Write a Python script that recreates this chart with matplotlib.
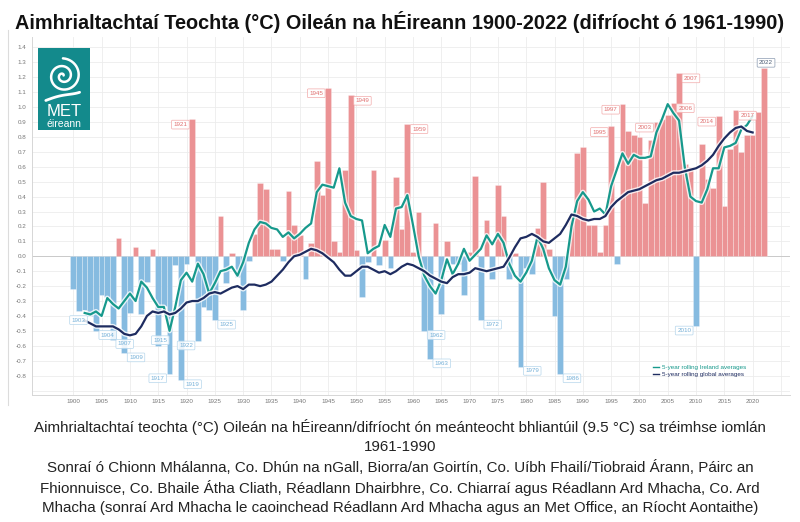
import numpy as np
import matplotlib
matplotlib.use("Agg")
import matplotlib.pyplot as plt
import matplotlib.patheffects as pe
from matplotlib.lines import Line2D
from matplotlib.patches import Rectangle
from matplotlib.ticker import FuncFormatter

plt.rcParams['font.family'] = ['Liberation Sans', 'DejaVu Sans']

# annual anomaly (°C) vs 1961-1990, Ireland, 1900-2022
years = np.arange(1900, 2023)
anomaly = [
    -0.22, -0.37, -0.36, -0.40, -0.50, -0.26, -0.27, -0.56, 0.12, -0.65,   # 1900s
    -0.38, 0.06, -0.39, -0.17, 0.05, -0.60, -0.33, -0.79, -0.06, -0.83,    # 1910s
    -0.05, 0.92, -0.57, -0.34, -0.36, -0.43, 0.27, -0.18, 0.02, -0.14,     # 1920s
    -0.36, -0.03, 0.15, 0.49, 0.45, 0.05, 0.05, -0.03, 0.44, 0.21,         # 1930s
    0.14, -0.15, 0.09, 0.64, 0.41, 1.13, 0.10, 0.03, 0.58, 1.08,           # 1940s
    0.04, -0.27, -0.04, 0.58, -0.06, 0.11, -0.08, 0.53, 0.18, 0.89,        # 1950s
    0.03, 0.30, -0.50, -0.69, 0.22, -0.39, 0.10, -0.05, -0.05, -0.26,      # 1960s
    0.03, 0.54, -0.43, 0.24, -0.15, 0.48, 0.27, -0.15, 0.02, -0.74,        # 1970s
    -0.08, -0.12, 0.19, 0.50, 0.05, -0.40, -0.79, -0.15, 0.27, 0.69,       # 1980s
    0.73, 0.21, 0.21, 0.03, 0.21, 0.87, -0.05, 1.02, 0.84, 0.81,           # 1990s
    0.80, 0.36, 0.78, 0.90, 0.92, 0.95, 1.03, 1.23, 0.62, 0.60,            # 2000s
    -0.47, 0.75, 0.52, 0.46, 0.94, 0.34, 0.72, 0.98, 0.70, 0.81,           # 2010s
    0.81, 0.97, 1.26,                                                      # 2020s
]

# 5-year rolling averages, centred, 1902-2020
roll_years = np.arange(1902, 2021)
ireland_roll = [
    -0.38, -0.39, -0.37, -0.40, -0.28, -0.32, -0.35, -0.30,
    -0.25, -0.30, -0.17, -0.21, -0.28, -0.34, -0.34, -0.50, -0.34, -0.16,
    -0.11, -0.17, -0.05, -0.12, -0.25, -0.18, -0.10, -0.09, -0.07, -0.13,
    -0.04, 0.09, 0.18, 0.23, 0.22, 0.19, 0.18, 0.13, 0.16, 0.12,
    0.15, 0.19, 0.22, 0.43, 0.48, 0.47, 0.46, 0.59, 0.36, 0.27,
    0.25, 0.24, 0.02, 0.05, 0.07, 0.21, 0.13, 0.32, 0.33, 0.41,
    0.21, 0.00, -0.13, -0.20, -0.25, -0.16, -0.02, -0.12, -0.05, 0.05,
    -0.03, 0.01, 0.05, 0.14, 0.08, 0.15, 0.09, -0.05, -0.13, -0.17,
    -0.11, -0.03, 0.13, 0.05, -0.08, -0.16, -0.19, -0.07, 0.20, 0.37,
    0.43, 0.38, 0.30, 0.32, 0.28, 0.47, 0.58, 0.69, 0.62, 0.68,
    0.66, 0.66, 0.67, 0.83, 0.92, 1.02, 0.96, 0.91, 0.60, 0.40,
    0.37, 0.36, 0.45, 0.59, 0.59, 0.73, 0.74, 0.76, 0.85, 0.88,
    0.94,
]
global_roll = [
    -0.43, -0.45, -0.47, -0.47, -0.47, -0.47, -0.49, -0.52,
    -0.53, -0.52, -0.47, -0.40, -0.37, -0.38, -0.37, -0.39, -0.38, -0.35,
    -0.31, -0.30, -0.30, -0.28, -0.25, -0.24, -0.25, -0.23, -0.21, -0.20,
    -0.22, -0.19, -0.19, -0.20, -0.19, -0.17, -0.13, -0.09, -0.04, 0.00,
    0.01, 0.03, 0.05, 0.04, 0.02, -0.01, -0.04, -0.09, -0.13, -0.13,
    -0.10, -0.07, -0.07, -0.09, -0.11, -0.10, -0.12, -0.10, -0.07, -0.05,
    -0.06, -0.08, -0.10, -0.13, -0.15, -0.17, -0.18, -0.14, -0.12, -0.12,
    -0.11, -0.08, -0.09, -0.10, -0.09, -0.08, -0.07, -0.01, 0.06, 0.12,
    0.13, 0.15, 0.13, 0.10, 0.09, 0.12, 0.15, 0.21, 0.28, 0.27,
    0.25, 0.24, 0.25, 0.25, 0.27, 0.33, 0.37, 0.40, 0.43, 0.44,
    0.45, 0.47, 0.49, 0.51, 0.52, 0.54, 0.56, 0.56, 0.57, 0.58,
    0.59, 0.61, 0.64, 0.68, 0.74, 0.79, 0.83, 0.86, 0.87, 0.84,
    0.83,
]

# highlighted years and which side of the bar the tag sits
label_years = [1903, 1904, 1907, 1909, 1915, 1917, 1919, 1921, 1922, 1925,
               1945, 1949, 1959, 1962, 1963, 1972, 1979, 1986,
               1995, 1997, 2003, 2006, 2007, 2010, 2014, 2017, 2022]
label_sides = ['l', 'r', 'r', 'r', 'c', 'l', 'r', 'l', 'l', 'r',
               'l', 'r', 'r', 'r', 'r', 'r', 'r', 'r',
               'l', 'l', 'l', 'r', 'r', 'l', 'l', 'r', 'c']

RED = '#eb9294'
BLUE = '#86bbe0'
GREEN = '#17998c'
NAVY = '#1e2c60'

fig = plt.figure(figsize=(8, 5.22), dpi=100)
W, H = 800, 522
ax = fig.add_axes([32 / W, 1 - 395 / H, (790 - 32) / W, (395 - 37) / H])

colors = [RED if v >= 0 else BLUE for v in anomaly]
ax.bar(years, anomaly, width=1.0, color=colors, edgecolor=(1, 1, 1, 0.45),
       linewidth=0.4, zorder=2)

halo = [pe.Stroke(linewidth=3.6, foreground='white', alpha=0.8), pe.Normal()]
ax.plot(roll_years, ireland_roll, color=GREEN, lw=1.6, zorder=4,
        path_effects=halo, label='5-year rolling Ireland averages')
ax.plot(roll_years, global_roll, color=NAVY, lw=1.6, zorder=4,
        path_effects=halo, label='5-year rolling global averages')

# year tags
val = dict(zip(years, anomaly))
for yr, side in zip(label_years, label_sides):
    v = val[yr]
    if yr == 2022:
        tc, ec = '#4d5d75', '#8a9ab0'
    elif v >= 0:
        tc, ec = '#e07070', '#f2aaaa'
    else:
        tc, ec = '#74b0d8', '#b5d6ec'
    if side == 'l':
        dx, ha = -3.5, 'right'
    elif side == 'r':
        dx, ha = 3.5, 'left'
    else:
        dx, ha = 1.5, 'center'
    dy = -4 if v >= 0 else -3
    if side == 'c':
        dy = 4
    ax.annotate(str(yr), (yr, v), xytext=(dx, dy), textcoords='offset points',
                ha=ha, va='center', fontsize=4.5, color=tc, zorder=5,
                bbox=dict(boxstyle='round,pad=0.3,rounding_size=0.15',
                          fc=(1, 1, 1, 0.85), ec=ec, lw=0.5))

ax.set_xlim(1892.7, 2026.6)
ax.set_ylim(-0.93, 1.47)
ax.set_xticks(np.arange(1900, 2021, 5))
ax.set_xticks(np.arange(1900, 2026, 5), minor=True)
ax.set_yticks(np.round(np.arange(-0.8, 1.41, 0.1), 1))
ax.set_yticks([-0.9], minor=True)
ax.yaxis.set_major_formatter(FuncFormatter(lambda v, p: f'{round(v, 1) + 0.0:.1f}'))
ax.tick_params(axis='both', which='both', length=0, labelsize=4.5, colors='#777777')
ax.tick_params(axis='y', pad=4)
ax.tick_params(axis='x', pad=3)
ax.grid(True, which='both', color='#ececec', lw=0.6, zorder=0)
ax.set_axisbelow(True)
ax.axhline(0, color='#c9c9c9', lw=0.7, zorder=1)
for s in ['top', 'right']:
    ax.spines[s].set_visible(False)
for s in ['left', 'bottom']:
    ax.spines[s].set_color('#d6d6d6')
    ax.spines[s].set_linewidth(0.7)

leg = ax.legend(loc='center left', bbox_to_anchor=(0.812, 0.067), fontsize=4.5,
                frameon=False, handlelength=0.9, handletextpad=0.5,
                labelspacing=0.35, labelcolor='linecolor')
for h in leg.legend_handles:
    h.set_path_effects([])
    h.set_linewidth(1.0)

# Met Éireann logo box
logo = fig.add_axes([38 / W, 1 - 130 / H, 52 / W, 82 / H])
logo.set_xlim(0, 1)
logo.set_ylim(0, 1)
logo.axis('off')
logo.add_patch(Rectangle((0, 0), 1, 1, color='#138a8c'))
t = np.linspace(0.6, 4.5 * np.pi, 300)
r = 0.024 * t
logo.plot(0.48 + r * np.cos(t) * 1.0, 0.66 + r * np.sin(t) * 0.63,
          color='white', lw=1.8, solid_capstyle='round')
tt = np.linspace(0, 1, 60)
logo.plot(0.15 + 0.65 * tt, 0.36 + 0.05 * np.sin(np.pi * tt) + 0.1 * tt ** 3,
          color='white', lw=2.0, solid_capstyle='round')
logo.text(0.5, 0.22, 'MET', color='white', fontsize=12, ha='center',
          va='center')
logo.text(0.5, 0.07, 'éireann', color='white', fontsize=7.5, ha='center',
          va='center')

# frame line of the original image
fig.add_artist(Line2D([8 / W, 8 / W], [1 - 405 / H, 1 - 30 / H],
                      color='#dcdcdc', lw=0.8))

fig.text(0.5, 1 - 22 / H,
         'Aimhrialtachtaí Teochta (°C) Oileán na hÉireann 1900-2022 (difríocht ó 1961-1990)',
         ha='center', va='center', fontsize=14.3, fontweight='bold', color='#111111')

caption = [
    'Aimhrialtachtaí teochta (°C) Oileán na hÉireann/difríocht ón meánteocht bhliantúil (9.5 °C) sa tréimhse iomlán',
    '1961-1990',
    'Sonraí ó Chionn Mhálanna, Co. Dhún na nGall, Biorra/an Goirtín, Co. Uíbh Fhailí/Tiobraid Árann, Páirc an',
    'Fhionnuisce, Co. Bhaile Átha Cliath, Réadlann Dhairbhre, Co. Chiarraí agus Réadlann Ard Mhacha, Co. Ard',
    'Mhacha (sonraí Ard Mhacha le caoinchead Réadlann Ard Mhacha agus an Met Office, an Ríocht Aontaithe)',
]
caption_y = [427, 447, 467, 488, 508]
for line, yp in zip(caption, caption_y):
    fig.text(0.5, 1 - yp / H, line, ha='center', va='center', fontsize=10.9,
             color='#222222')

fig.savefig('out.png', dpi=100, facecolor='white')
